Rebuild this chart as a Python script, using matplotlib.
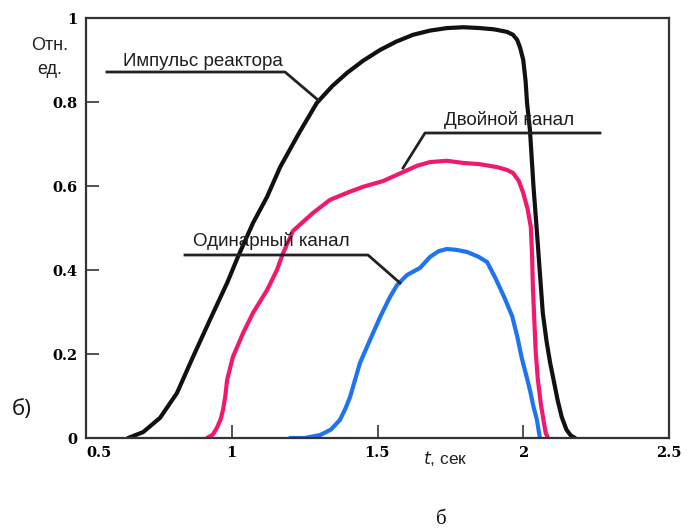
import matplotlib
matplotlib.use("Agg")
import matplotlib.pyplot as plt

# Reactor pulse (black)
t_pulse = [0.644, 0.696, 0.754, 0.812, 0.867, 0.925, 0.984, 1.021, 1.073, 1.121, 1.166, 1.23, 1.292, 1.345, 1.395, 1.45, 1.509, 1.565, 1.622, 1.68, 1.738, 1.795, 1.852, 1.9, 1.944, 1.965, 1.979, 1.989, 2.0, 2.008, 2.013, 2.023, 2.035, 2.048, 2.067, 2.08, 2.092, 2.105, 2.118, 2.132, 2.148, 2.163, 2.178]
y_pulse = [0.0, 0.014, 0.048, 0.107, 0.193, 0.281, 0.369, 0.431, 0.512, 0.574, 0.645, 0.725, 0.798, 0.838, 0.869, 0.898, 0.924, 0.944, 0.96, 0.97, 0.976, 0.978, 0.976, 0.973, 0.967, 0.96, 0.948, 0.93, 0.9, 0.85, 0.798, 0.733, 0.6, 0.48, 0.298, 0.23, 0.18, 0.135, 0.09, 0.05, 0.02, 0.006, 0.0]

# Double channel (pink)
t_double = [0.915, 0.935, 0.949, 0.962, 0.970, 0.978, 0.984, 1.004, 1.039, 1.073, 1.121, 1.155, 1.176, 1.21, 1.234, 1.279, 1.337, 1.4, 1.45, 1.52, 1.587, 1.635, 1.68, 1.738, 1.793, 1.85, 1.91, 1.945, 1.965, 1.985, 2.0, 2.015, 2.026, 2.03, 2.033, 2.038, 2.043, 2.05, 2.06, 2.07, 2.077, 2.085]
y_double = [0.0, 0.008, 0.024, 0.045, 0.067, 0.1, 0.138, 0.193, 0.25, 0.298, 0.352, 0.4, 0.44, 0.493, 0.508, 0.536, 0.567, 0.585, 0.598, 0.612, 0.633, 0.648, 0.657, 0.66, 0.655, 0.652, 0.645, 0.638, 0.631, 0.612, 0.583, 0.545, 0.502, 0.44, 0.36, 0.28, 0.202, 0.14, 0.083, 0.04, 0.012, 0.0]

# Single channel (blue)
t_single = [1.2, 1.25, 1.303, 1.34, 1.371, 1.39, 1.406, 1.44, 1.474, 1.509, 1.543, 1.567, 1.601, 1.646, 1.68, 1.71, 1.738, 1.77, 1.807, 1.845, 1.876, 1.905, 1.935, 1.962, 1.98, 1.995, 2.01, 2.023, 2.035, 2.047, 2.057]
y_single = [0.0, 0.0, 0.007, 0.02, 0.043, 0.07, 0.098, 0.179, 0.233, 0.288, 0.336, 0.364, 0.388, 0.405, 0.431, 0.445, 0.45, 0.448, 0.443, 0.432, 0.419, 0.38, 0.335, 0.29, 0.24, 0.19, 0.15, 0.114, 0.075, 0.043, 0.0]

xticks = [0.5, 1, 1.5, 2, 2.5]
xtick_labels = ["0.5", "1", "1.5", "2", "2.5"]
yticks = [0, 0.2, 0.4, 0.6, 0.8, 1]
ytick_labels = ["0", "0.2", "0.4", "0.6", "0.8", "1"]

labels = ["Импульс реактора", "Двойной канал", "Одинарный канал"]

fig = plt.figure(figsize=(6.9, 5.3), dpi=100)
ax = fig.add_axes([86/690, 1-438/530, (669-86)/690, (438-18)/530])

ax.plot(t_pulse, y_pulse, color="#111111", lw=3.0, solid_capstyle="round", solid_joinstyle="round")
ax.plot(t_double, y_double, color="#f0196e", lw=3.0, solid_capstyle="round", solid_joinstyle="round")
ax.plot(t_single, y_single, color="#1f73f0", lw=3.0, solid_capstyle="round", solid_joinstyle="round")

ax.set_xlim(0.5, 2.5)
ax.set_ylim(0, 1)
for s in ax.spines.values():
    s.set_color("#333333")
    s.set_linewidth(1.6)

tick_font = dict(family="DejaVu Serif", weight="bold", size=10.5)
ax.set_xticks(xticks)
ax.set_xticklabels(xtick_labels, **tick_font)
ax.set_yticks(yticks)
ax.set_yticklabels(ytick_labels, **tick_font)
ax.tick_params(direction="in", length=9.5, width=1.2, color="#333333", pad=6)
ax.get_xticklabels()[0].set_horizontalalignment("left")
ax.get_xticklines()[0].set_visible(False)
ax.get_xticklines()[-2].set_visible(False)

def dx(px):
    return 0.5 + (px - 86) / 291.5
def dy(py):
    return (438 - py) / 420

lab_font = dict(family="Liberation Sans", size=13.5, color="#1e1e1e")
lc = "#222222"
# Reactor pulse annotation
ax.plot([dx(107), dx(285), dx(318)], [dy(72), dy(72), dy(100)], color=lc, lw=2.0, clip_on=False)
ax.text(dx(203), dy(61), labels[0], ha="center", va="center", **lab_font)
# Double channel annotation
ax.plot([dx(403), dx(425), dx(600)], [dy(168), dy(133), dy(133)], color=lc, lw=2.0, clip_on=False)
ax.text(dx(509), dy(120), labels[1], ha="center", va="center", **lab_font)
# Single channel annotation
ax.plot([dx(185), dx(368), dx(400)], [dy(255), dy(255), dy(283)], color=lc, lw=2.0, clip_on=False)
ax.text(dx(271), dy(241), labels[2], ha="center", va="center", **lab_font)

fig.text(50/690, 1-46/530, "Отн.", ha="center", va="center", family="Liberation Sans", size=13, color="#222222")
fig.text(50/690, 1-70/530, "ед.", ha="center", va="center", family="Liberation Sans", size=13, color="#222222")
fig.text(445/690, 1-459/530, "$t$, сек", ha="center", va="center", family="Liberation Sans", size=12.5, color="#222222")
fig.text(22/690, 1-410/530, "б)", ha="center", va="center", family="Open Sans", size=16, color="#111111")
fig.text(441/690, 1-519/530, "б", ha="center", va="center", family="Liberation Serif", size=15, color="#111111")

fig.savefig("out.png", dpi=100)
